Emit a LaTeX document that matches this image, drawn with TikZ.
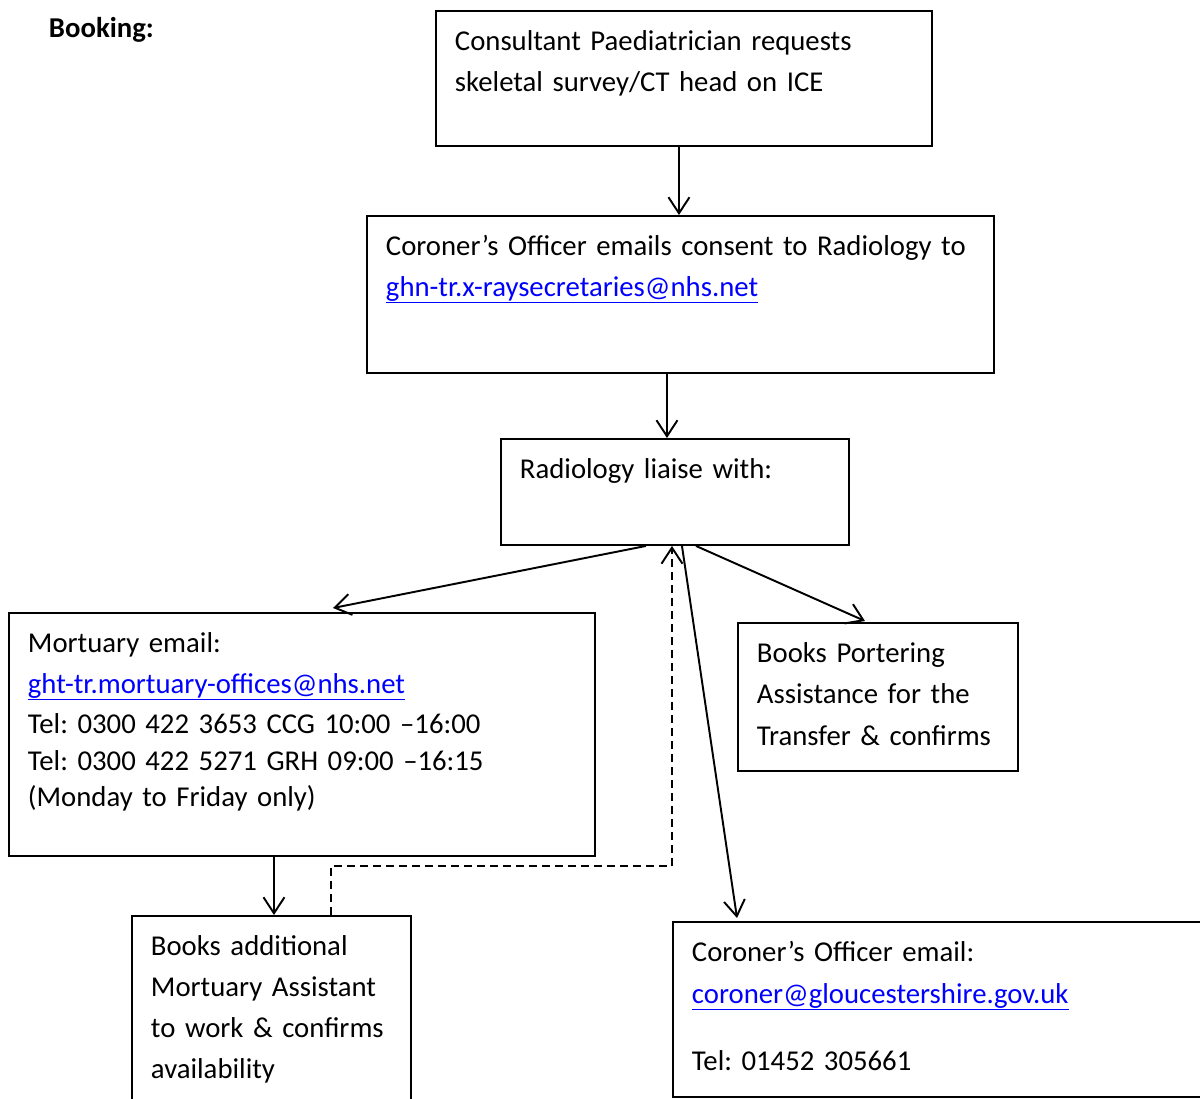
\documentclass[tikz,border=0pt]{standalone}
\usepackage{fontspec}
\setmainfont{Carlito}
\usetikzlibrary{arrows.meta}
\newcommand{\mailto}[1]{\textcolor{blue}{\setbox0\hbox{#1}\rlap{\rule[-0.13cm]{\wd0}{0.03cm}}\box0}}
\begin{document}
\frenchspacing
\begin{tikzpicture}[>={Straight Barb[length=0.32cm,width=0.42cm]}, line width=1.1pt,
  every node/.style={font=\fontsize{16.35}{23.3}\selectfont},
  box/.style={draw, anchor=north west, align=left, inner xsep=0.38cm, inner ysep=0pt, text height=0.8cm}]
\useasboundingbox (0,0) rectangle (24,-21.96);
\clip (0,0) rectangle (24,-21.96);
\node[anchor=base west, inner sep=0pt, font=\fontsize{16.35}{23.3}\selectfont\bfseries] (title) at (0.96,-0.74) {Booking:};
\node[box, text width=9.16cm, text depth=1.9cm] (consult) at (8.70,-0.20) {Consultant Paediatrician requests\\ skeletal survey/CT head on ICE};
\node[box, text width=11.78cm, text depth=2.34cm] (officer) at (7.32,-4.30) {Coroner’s Officer emails consent to Radiology to\\ \mailto{ghn-tr.x-raysecretaries@nhs.net}};
\node[box, text width=6.20cm, text depth=1.32cm] (liaise) at (10.00,-8.76) {Radiology liaise with:};
\node[box, text width=10.96cm, text depth=4.06cm] (mortuary) at (0.16,-12.24) {Mortuary email:\\ \mailto{ght-tr.mortuary-offices@nhs.net}\\[-0.02cm] Tel: 0300 422 3653 CCG 10:00 –16:00\\[-0.08cm] Tel: 0300 422 5271 GRH 09:00 –16:15\\[-0.1cm] (Monday to Friday only)};
\node[box, text width=4.84cm, text depth=2.16cm] (porter) at (14.74,-12.44) {Books Portering\\ Assistance for the\\[0.02cm] Transfer \& confirms};
\node[box, text width=4.82cm, text depth=3.2cm] (assist) at (2.62,-18.30) {Books additional\\ Mortuary Assistant\\ to work \& confirms\\ availability};
\node[box, text width=11.24cm, text depth=2.7cm] (coroner) at (13.44,-18.42) {Coroner’s Officer email:\\[0.02cm] \mailto{coroner@gloucestershire.gov.uk}\\[0.52cm] Tel: 01452 305661};
\draw[->] ([xshift=-0.10cm]consult.south) -- ([xshift=-0.03cm]officer.north);
\draw[->] ([xshift=-0.27cm]officer.south) -- ([xshift=-0.16cm]liaise.north);
\draw[->] ([xshift=-0.58cm]liaise.south) -- ([xshift=0.62cm,yshift=0.08cm]mortuary.north);
\draw[->] ([xshift=0.42cm]liaise.south) -- ([xshift=-0.26cm,yshift=0.02cm]porter.north);
\draw[->] ([xshift=0.14cm]liaise.south) -- ([xshift=1.30cm,yshift=0.06cm]coroner.north west);
\draw[->] ([xshift=-0.56cm]mortuary.south) -- ([xshift=0.05cm]assist.north);
\draw[->, dash pattern=on 0.16cm off 0.1cm] ([xshift=1.19cm]assist.north) -- ++(0,0.98) -| ([xshift=-0.06cm]liaise.south);
\end{tikzpicture}
\end{document}
